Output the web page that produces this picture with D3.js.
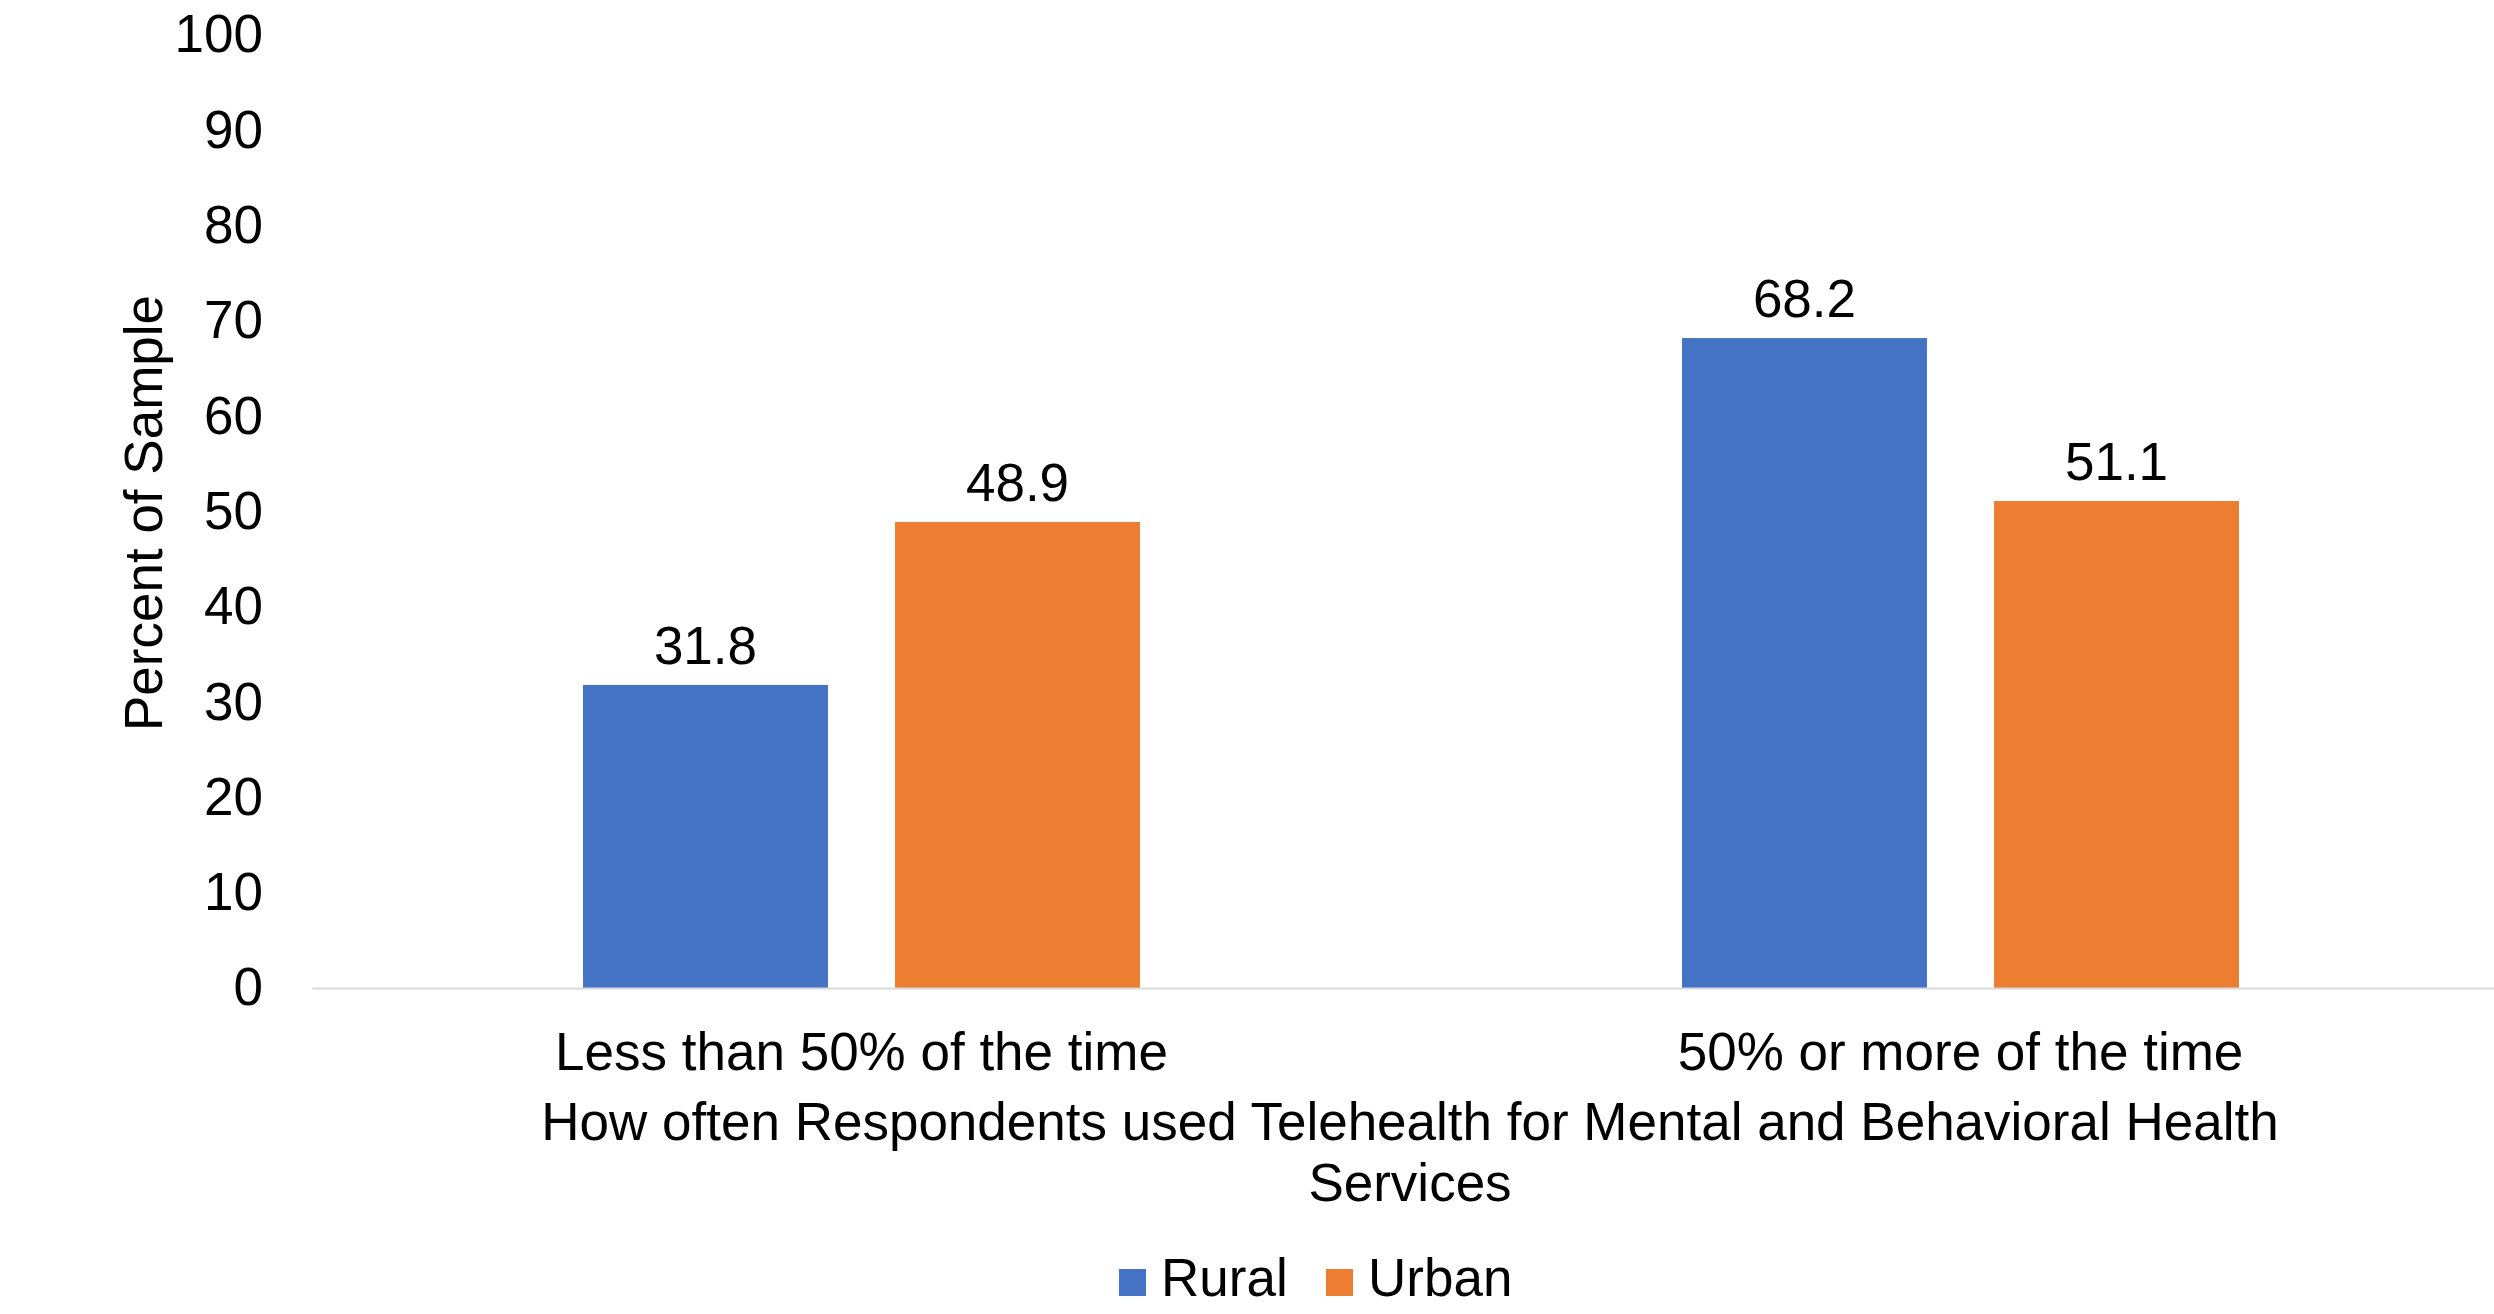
<!DOCTYPE html>
<html>
<head>
<meta charset="utf-8">
<script src="https://cdn.jsdelivr.net/npm/d3@7"></script>
<style>
  body { margin: 0; background: #fff; }
  text { font-family: "Liberation Sans", Arial, sans-serif; fill: #000; }
</style>
</head>
<body>
<svg id="chart"></svg>
<script>
// DATA
var categories = ["Less than 50% of the time", "50% or more of the time"];
var seriesNames = ["Rural", "Urban"];
var rural = [31.8, 68.2];
var urban = [48.9, 51.1];
var yTicks = [0, 10, 20, 30, 40, 50, 60, 70, 80, 90, 100];
var xTitle = ["How often Respondents used Telehealth for Mental and Behavioral Health", "Services"];
var yTitle = "Percent of Sample";

// SIZES
var width = 2494;
var height = 1314;
var margin = {top: 35, right: -16, bottom: 326, left: 312};
var colors = {Rural: "#4472C4", Urban: "#ED7D31"};
var fontSize = 53;

var svg = d3.select("#chart")
  .attr("width", width)
  .attr("height", height);

var rows = categories.map(function(c, i){
  return {category: c, values: [{key: "Rural", value: rural[i]}, {key: "Urban", value: urban[i]}]};
});

// Scales
var x0 = d3.scaleBand()
  .domain(categories)
  .range([margin.left, width - margin.right])
  .padding(0);

var groupW = 557;
var x1 = d3.scaleBand()
  .domain(seriesNames)
  .range([(x0.bandwidth() - groupW) / 2, (x0.bandwidth() + groupW) / 2])
  .paddingInner(0.215)
  .paddingOuter(0);

var y = d3.scaleLinear()
  .domain([0, 100])
  .range([height - margin.bottom, margin.top]);

// Y axis (labels only)
var yAxis = d3.axisLeft(y)
  .tickValues(yTicks)
  .tickSize(0)
  .tickPadding(0);

svg.append("g")
  .attr("class", "axis")
  .attr("transform", "translate(263,0)")
  .call(yAxis)
  .call(function(g){ g.select(".domain").remove(); })
  .selectAll("text")
  .attr("font-size", fontSize)
  .attr("font-family", "Liberation Sans, Arial, sans-serif")
  .attr("fill", "#000");

// Bars
var groups = svg.append("g")
  .selectAll("g")
  .data(rows)
  .join("g")
  .attr("transform", function(d){ return "translate(" + x0(d.category) + ",0)"; });

groups.selectAll("rect")
  .data(function(d){ return d.values; })
  .join("rect")
  .attr("x", function(d){ return x1(d.key); })
  .attr("y", function(d){ return y(d.value); })
  .attr("width", x1.bandwidth())
  .attr("height", function(d){ return y(0) - y(d.value); })
  .attr("fill", function(d){ return colors[d.key]; });

groups.selectAll("text.value")
  .data(function(d){ return d.values; })
  .join("text")
  .attr("class", "value")
  .attr("x", function(d){ return x1(d.key) + x1.bandwidth() / 2; })
  .attr("y", function(d){ return y(d.value) - 21; })
  .attr("text-anchor", "middle")
  .attr("font-size", fontSize)
  .text(function(d){ return d.value.toFixed(1); });

// X axis
var xAxis = d3.axisBottom(x0)
  .tickSize(0)
  .tickPadding(44);

var xg = svg.append("g")
  .attr("transform", "translate(0," + y(0) + ")")
  .call(xAxis);

xg.select(".domain")
  .attr("stroke", "#d9d9d9")
  .attr("stroke-width", 2);

xg.selectAll("text")
  .attr("font-size", fontSize)
  .attr("font-family", "Liberation Sans, Arial, sans-serif")
  .attr("fill", "#000");

// Axis titles
svg.append("text")
  .attr("text-anchor", "middle")
  .attr("font-size", fontSize)
  .selectAll("tspan")
  .data(xTitle)
  .join("tspan")
  .attr("x", 1410)
  .attr("y", function(d, i){ return 1140 + i * 61; })
  .text(function(d){ return d; });

svg.append("text")
  .attr("transform", "translate(162,513) rotate(-90)")
  .attr("text-anchor", "middle")
  .attr("font-size", fontSize)
  .text(yTitle);

// Legend
var legend = svg.append("g")
  .selectAll("g")
  .data(seriesNames)
  .join("g")
  .attr("transform", function(d, i){ return "translate(" + (1119 + i * 207) + ",1269)"; });

legend.append("rect")
  .attr("width", 27)
  .attr("height", 27)
  .attr("fill", function(d){ return colors[d]; });

legend.append("text")
  .attr("x", 42)
  .attr("y", 27)
  .attr("font-size", fontSize)
  .text(function(d){ return d; });
</script>
</body>
</html>
